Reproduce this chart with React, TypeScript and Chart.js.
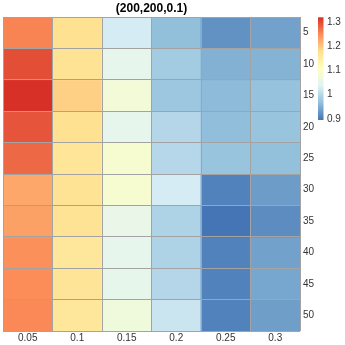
import React, { useEffect, useRef } from "react";
import { Chart, registerables } from "chart.js";

Chart.register(...registerables);

const title = "(200,200,0.1)";
const columns = ["0.05", "0.1", "0.15", "0.2", "0.25", "0.3"];
const rows = ["5", "10", "15", "20", "25", "30", "35", "40", "45", "50"];

const row5 = [1.257, 1.177, 1.027, 0.967, 0.922, 0.937];
const row10 = [1.297, 1.172, 1.052, 0.982, 0.952, 0.954];
const row15 = [1.32, 1.192, 1.077, 0.977, 0.962, 0.97];
const row20 = [1.292, 1.177, 1.052, 0.997, 0.965, 0.972];
const row25 = [1.277, 1.167, 1.087, 0.999, 0.972, 0.968];
const row30 = [1.227, 1.172, 1.087, 1.027, 0.907, 0.932];
const row35 = [1.232, 1.172, 1.057, 0.992, 0.895, 0.917];
const row40 = [1.247, 1.162, 1.052, 0.992, 0.907, 0.937];
const row45 = [1.249, 1.17, 1.053, 0.997, 0.907, 0.942];
const row50 = [1.252, 1.162, 1.072, 1.017, 0.907, 0.934];
const values = [row5, row10, row15, row20, row25, row30, row35, row40, row45, row50];

const legendMin = 0.895;
const legendMax = 1.32;
const legendTicks = [0.9, 1, 1.1, 1.2, 1.3];

const palette = ["#4575B4", "#91BFDB", "#E0F3F8", "#FFFFBF", "#FEE090", "#FC8D59", "#D73027"];
const FONT = "Arial, 'Liberation Sans', sans-serif";

function hexToRgb(h: string) {
  const n = parseInt(h.slice(1), 16);
  return [(n >> 16) & 255, (n >> 8) & 255, n & 255];
}
const palRgb = palette.map(hexToRgb);

function colorFor(v: number) {
  let t = (v - legendMin) / (legendMax - legendMin);
  t = Math.max(0, Math.min(1, t));
  const pos = t * (palRgb.length - 1);
  const i = Math.min(Math.floor(pos), palRgb.length - 2);
  const f = pos - i;
  const a = palRgb[i];
  const b = palRgb[i + 1];
  const c = a.map((x, k) => Math.round(x + (b[k] - x) * f));
  return `rgb(${c[0]},${c[1]},${c[2]})`;
}

const decorPlugin = {
  id: "decor",
  afterDraw(chart: any) {
    const { ctx, chartArea } = chart;
    ctx.save();
    // title centered over the heatmap
    ctx.fillStyle = "#000";
    ctx.font = `bold 12px ${FONT}`;
    ctx.textAlign = "center";
    ctx.textBaseline = "middle";
    ctx.fillText(title, (chartArea.left + chartArea.right) / 2, 9);
    // colour bar
    const x0 = 318;
    const w = 5.5;
    const top = chartArea.top + 0.3;
    const bottom = 120;
    const grad = ctx.createLinearGradient(0, bottom, 0, top);
    palette.forEach((c, i) => grad.addColorStop(i / (palette.length - 1), c));
    ctx.fillStyle = grad;
    ctx.fillRect(x0, top, w, bottom - top);
    ctx.fillStyle = "#333";
    ctx.font = `10px ${FONT}`;
    ctx.textBaseline = "middle";
    ctx.textAlign = "left";
    legendTicks.forEach((tv) => {
      const y = bottom - ((tv - legendMin) / (legendMax - legendMin)) * (bottom - top);
      ctx.fillText(String(tv), x0 + 9, y);
    });
    ctx.restore();
  },
};

export default function App() {
  const ref = useRef<HTMLCanvasElement>(null);
  useEffect(() => {
    document.body.style.margin = "0";
    const datasets = rows.map((r, ri) => ({
      label: r,
      data: columns.map(() => 1),
      backgroundColor: values[ri].map(colorFor),
      borderWidth: 0,
      barPercentage: 1,
      categoryPercentage: 1,
      yAxisID: "y",
    }));
    const chart = new Chart(ref.current!, {
      type: "bar",
      data: { labels: columns, datasets },
      plugins: [decorPlugin],
      options: {
        animation: false,
        responsive: false,
        maintainAspectRatio: false,
        layout: { padding: { left: 3, right: 0, top: 17, bottom: 0 } },
        plugins: {
          legend: { display: false },
          tooltip: { enabled: false },
          title: { display: false },
        },
        scales: {
          x: {
            type: "category",
            stacked: true,
            offset: true,
            grid: { display: true, offset: true, color: "#a3a3a3", z: 1, drawTicks: false, lineWidth: 1 },
            border: { display: false },
            ticks: { color: "#333", font: { size: 10, family: FONT }, padding: 1, maxRotation: 0 },
            afterFit: (s: any) => { s.height = 14; },
          },
          y: {
            type: "linear",
            stacked: true,
            reverse: true,
            min: 0,
            max: rows.length,
            display: false,
          },
          rowLabels: {
            type: "category",
            labels: rows,
            position: "right",
            offset: true,
            grid: { display: true, offset: true, color: "#a3a3a3", z: 1, drawTicks: false, lineWidth: 1 },
            border: { display: false },
            ticks: { color: "#333", font: { size: 10, family: FONT }, padding: 3 },
            afterFit: (s: any) => { s.width = 45; },
          },
        },
      } as any,
    });
    return () => chart.destroy();
  }, []);
  return (
    <div style={{ width: 345, height: 345 }}>
      <canvas ref={ref} width={345} height={345} style={{ width: 345, height: 345 }} />
    </div>
  );
}
